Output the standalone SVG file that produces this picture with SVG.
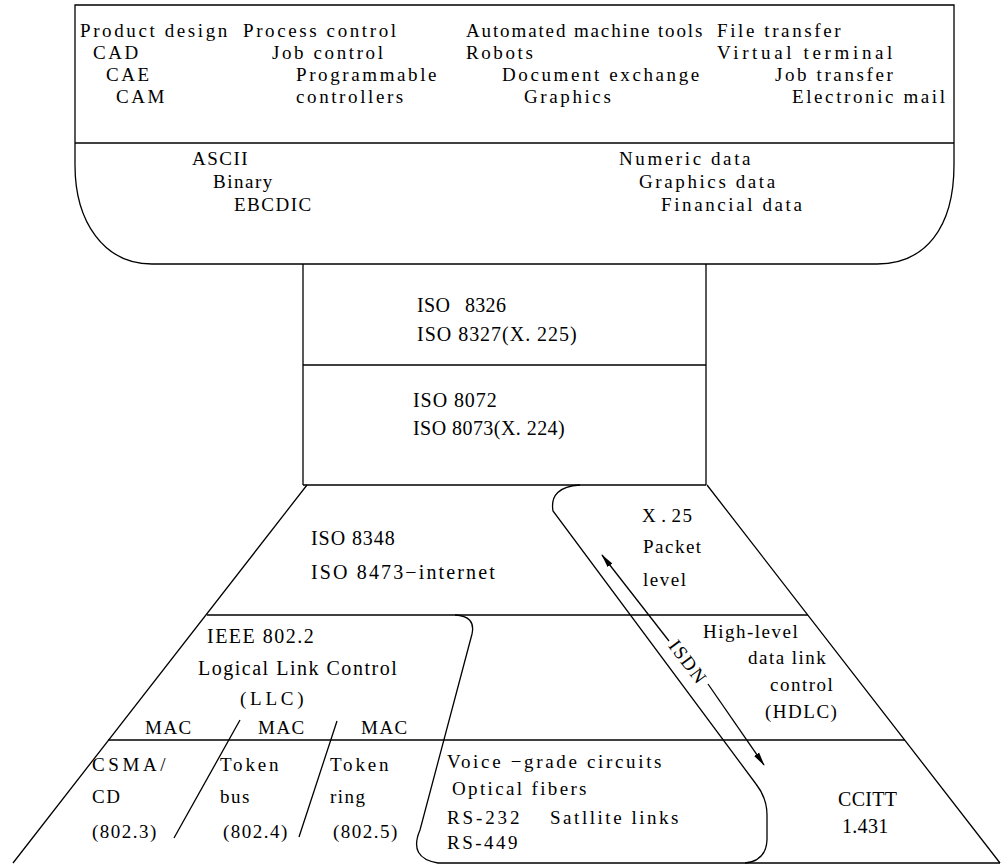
<svg xmlns="http://www.w3.org/2000/svg" width="1002" height="867" viewBox="0 0 1002 867">
<style>
.ln{fill:none;stroke:#000;stroke-width:1.3}
text{font-family:"Liberation Serif","Times New Roman",serif;font-size:19px;fill:#000;letter-spacing:1.5px}
.w{letter-spacing:2.6px}
.n{letter-spacing:0.3px;font-size:20px}
</style>
<defs>
<marker id="ah" viewBox="0 0 14 8" refX="13" refY="4" markerWidth="14" markerHeight="8" markerUnits="userSpaceOnUse" orient="auto-start-reverse">
<path d="M0,1 L14,4 L0,7 Z" fill="#000"/>
</marker>
</defs>

<g id="application">
<path class="ln" d="M75,5 L954,5 L954,165 C954,228 925,264 877,264 L152,264 C104,264 75,222 75,165 Z"/>
<line class="ln" x1="75" y1="143" x2="954" y2="143"/>
<text class="w" x="80" y="37">Product design</text>
<text class="w" x="243" y="37">Process control</text>
<text class="w" x="466" y="37" textLength="239" lengthAdjust="spacing">Automated machine tools</text>
<text class="w" x="717" y="37">File transfer</text>
<text class="w" x="93" y="59">CAD</text>
<text class="w" x="272" y="59">Job control</text>
<text class="w" x="466" y="59">Robots</text>
<text class="w" x="717" y="59" textLength="178" lengthAdjust="spacing">Virtual  terminal</text>
<text class="w" x="106" y="81">CAE</text>
<text class="w" x="296" y="81">Programmable</text>
<text class="w" x="502" y="81">Document exchange</text>
<text class="w" x="775" y="81">Job transfer</text>
<text class="w" x="116" y="103">CAM</text>
<text class="w" x="296" y="103">controllers</text>
<text class="w" x="524" y="103">Graphics</text>
<text class="w" x="792" y="103">Electronic mail</text>
</g>

<g id="presentation">
<text x="192" y="165">ASCII</text>
<text x="213" y="188">Binary</text>
<text x="234" y="211">EBCDIC</text>
<text class="w" x="619" y="165">Numeric data</text>
<text class="w" x="639" y="188">Graphics data</text>
<text class="w" x="661" y="211">Financial data</text>
</g>

<g id="session">
<path class="ln" d="M303,264 L303,485 M706,264 L706,485"/>
<line class="ln" x1="303" y1="365" x2="706" y2="365"/>
<text class="n" x="417" y="312">ISO<tspan x="465">8326</tspan></text>
<text class="n" x="417" y="341" textLength="160" lengthAdjust="spacing">ISO 8327(X. 225)</text>
</g>

<g id="transport">
<line class="ln" x1="303" y1="485" x2="706" y2="485"/>
<text class="n" x="413" y="407" textLength="84" lengthAdjust="spacing">ISO 8072</text>
<text class="n" x="413" y="435" textLength="152" lengthAdjust="spacing">ISO 8073(X. 224)</text>
</g>

<g id="network">
<path class="ln" d="M307,485 L13,863 M707,485 L1000,863"/>
<line class="ln" x1="207" y1="615" x2="808" y2="615"/>
<text class="n" x="311" y="545" textLength="84" lengthAdjust="spacing">ISO 8348</text>
<text class="n" x="311" y="579" textLength="184" lengthAdjust="spacing">ISO 8473−internet</text>
</g>

<g id="x25">
<path class="ln" d="M580,485 Q549,487 553,511 L756,784 Q767,798 767,815 L767,840 Q766,861 745,863"/>
<text x="642" y="522">X<tspan dx="4">.</tspan><tspan dx="4">25</tspan></text>
<text x="643" y="553">Packet</text>
<text x="643" y="586">level</text>
</g>

<g id="llc">
<line class="ln" x1="108" y1="740" x2="905" y2="740"/>
<path class="ln" d="M455,615 Q476,616 472,634 L420,830 Q408,858 438,863 L1000,863"/>
<text class="n" x="207" y="643" textLength="107" lengthAdjust="spacing">IEEE 802.2</text>
<text class="n" x="198" y="675" textLength="199" lengthAdjust="spacing">Logical Link Control</text>
<text x="240" y="705" textLength="65" lengthAdjust="spacing">(LLC)</text>
<text x="145" y="734">MAC</text>
<text x="258" y="734">MAC</text>
<text x="361" y="734">MAC</text>
</g>

<g id="hdlc">
<text x="703" y="638">High-level</text>
<text x="748" y="664">data<tspan dx="6">link</tspan></text>
<text x="770" y="691">control</text>
<text x="765" y="718">(HDLC)</text>
</g>

<g id="physical">
<path class="ln" d="M240,720 L174,838 M337,721 L299,837"/>
<text x="92" y="771" textLength="75" lengthAdjust="spacing">CSMA/</text>
<text x="92" y="803">CD</text>
<text x="92" y="838">(802.3)</text>
<text x="220" y="771" textLength="60" lengthAdjust="spacing">Token</text>
<text x="220" y="803">bus</text>
<text x="223" y="838">(802.4)</text>
<text x="330" y="771" textLength="60" lengthAdjust="spacing">Token</text>
<text x="330" y="803">ring</text>
<text x="333" y="838">(802.5)</text>
<text x="447" y="768" textLength="216" lengthAdjust="spacing">Voice −grade circuits</text>
<text x="452" y="795" textLength="136" lengthAdjust="spacing">Optical  fibers</text>
<text x="447" y="824" textLength="74" lengthAdjust="spacing">RS-232</text>
<text x="550" y="824" textLength="130" lengthAdjust="spacing">Satllite  links</text>
<text x="447" y="849" textLength="72" lengthAdjust="spacing">RS-449</text>
<text class="n" x="838" y="806">CCITT</text>
<text class="n" x="842" y="833">1.431</text>
</g>

<g id="connectors">
<line class="ln" x1="669" y1="641" x2="602" y2="555" marker-end="url(#ah)"/>
<line class="ln" x1="708" y1="684" x2="764" y2="765" marker-end="url(#ah)"/>
<text x="0" y="0" text-anchor="middle" font-size="20" transform="translate(683,666) rotate(53)">ISDN</text>
</g>
</svg>
